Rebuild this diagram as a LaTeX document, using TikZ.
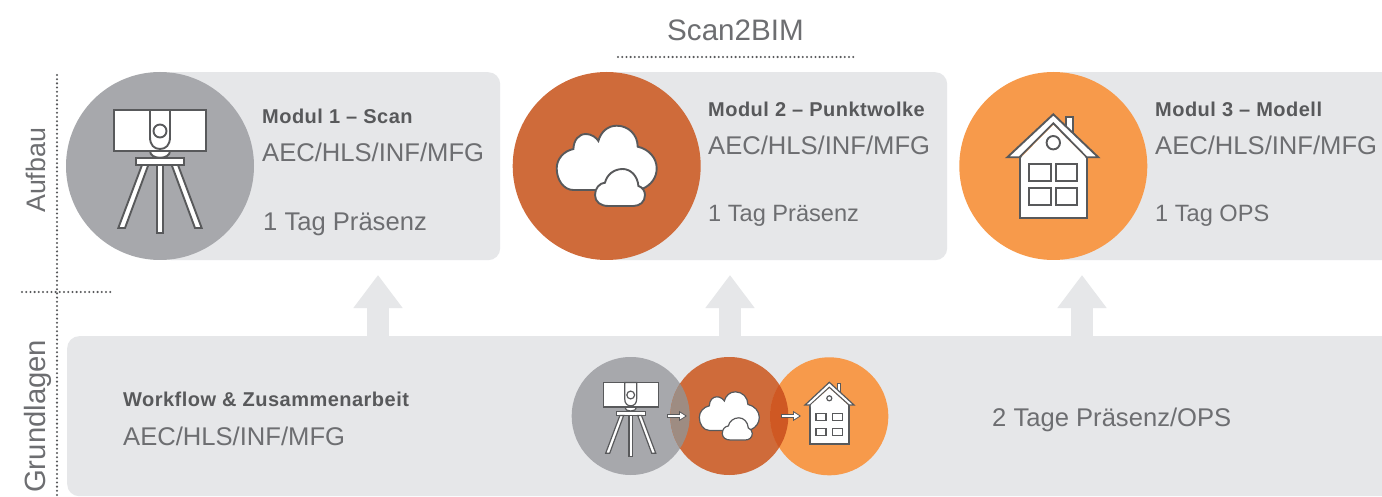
\documentclass[tikz,border=0pt]{standalone}
\usepackage{fontspec}
\setmainfont{Liberation Sans}
\usetikzlibrary{arrows.meta}
\definecolor{panelc}{HTML}{E6E7E9}
\definecolor{grayc}{HTML}{A7A8AC}
\definecolor{rustc}{HTML}{CF6B3A}
\definecolor{orangec}{HTML}{F79A4B}
\definecolor{inkc}{HTML}{58595B}
\definecolor{textc}{HTML}{6D6E71}
\definecolor{boldc}{HTML}{58595B}
\definecolor{dotc}{HTML}{58595B}
\definecolor{overA}{HTML}{9E8C82}
\definecolor{overB}{HTML}{CF5823}
\tikzset{
  panelbox/.style={fill=panelc,rounded corners=12pt,inner sep=0pt,anchor=north west},
  disc/.style={circle,inner sep=0pt,minimum size=#1,draw=none},
  txt/.style={inner sep=0pt,anchor=base west,text=textc,font=\fontsize{25.6}{25.6}\selectfont},
  smalltxt/.style={txt,font=\fontsize{23.6}{23.6}\selectfont},
  boldtxt/.style={inner sep=0pt,anchor=base west,text=boldc,font=\fontsize{20}{20}\selectfont\bfseries\addfontfeature{LetterSpace=2.4}},
  sidetxt/.style={inner sep=0pt,anchor=base west,rotate=90,text=textc},
  dotline/.style={draw=dotc,line width=2.3pt,line cap=round,dash pattern=on 0pt off 4.2pt},
  uparrow/.style={draw=panelc,line width=22pt,-{Triangle[width=47pt,length=33pt,fill=panelc]}},
  ic/.style={draw=inkc,fill=white,line width=#1,line join=miter},
  ic/.default=1.9pt,
  scannerpic/.pic={
    \tikzset{every path/.style={ic=\icw}}
    \draw (-24,-8) rectangle (24,-1);
    \draw (-10,-15) .. controls (-10,-6) and (10,-6) .. (10,-15) -- cycle;
    \draw (-2.7,-1) -- (2.7,-1) -- (2.7,67) -- (-2.7,67) -- cycle;
    \draw (-18,-1) -- (-11.7,-1) -- (-35,62) -- (-41.7,62) -- cycle;
    \draw (18,-1) -- (11.7,-1) -- (35,62) -- (41.7,62) -- cycle;
    \draw (-46,-56) rectangle (46,-15);
    \draw (-10,-56) -- (-10,-29) .. controls (-10,-21) and (-6,-17) .. (0,-17) .. controls (6,-17) and (10,-21) .. (10,-29) -- (10,-56) -- cycle;
    \draw (0,-35) circle (6.5);
  },
  cloudpic/.pic={
    \tikzset{every path/.style={ic=\icw}}
    \draw (-33.3,24) .. controls (-43,24) and (-50,14) .. (-50,2.3)
      .. controls (-50,-7) and (-43,-15) .. (-33.3,-17)
      .. controls (-33,-26) and (-28,-32) .. (-20.7,-32)
      .. controls (-15,-32) and (-10,-28) .. (-8.3,-25)
      .. controls (-6,-34) and (1,-40.3) .. (10,-40.3)
      .. controls (22,-40.3) and (31,-31) .. (31,-19.3)
      .. controls (42,-17) and (50,-8) .. (50,2.3)
      .. controls (50,12) and (44,19) .. (36.7,22.3) -- (20,24) -- cycle;
    \draw (-1.7,16.7) .. controls (-7,17) and (-11.7,22) .. (-11.7,29)
      .. controls (-11.7,36) and (-6,40) .. (1.7,40) -- (26.7,40)
      .. controls (33,40) and (38.3,36) .. (38.3,29)
      .. controls (38.3,25) and (35.5,21) .. (31.7,20)
      .. controls (31,10) and (24,3) .. (16,3)
      .. controls (7,3) and (0,9) .. (-1.7,16.7) -- cycle;
  },
  housepic/.pic={
    \tikzset{every path/.style={ic=\icw}}
    \draw (12.3,-49.3) rectangle (19.3,-28);
    \draw (-33.3,-8.7) rectangle (33.3,51.7);
    \draw (0,-51.7) -- (45,-8.7) -- (33.3,-8.7) -- (0,-42.7) -- (-34,-8.7) -- (-46,-8.7) -- cycle;
    \fill[white,draw=none] (-32,-8.7) -- (0,-41) -- (32,-8.7) -- (32,-5) -- (-32,-5) -- cycle;
    \draw (0,-23.3) circle (6.7);
    \draw (-24,-1.7) rectangle (-2.3,15);
    \draw (2.3,-1.7) rectangle (24,15);
    \draw (-24,22.3) rectangle (-2.3,39.3);
    \draw (2.3,22.3) rectangle (24,39.3);
  },
  minihousepic/.pic={
    \tikzset{every path/.style={ic=\icw}}
    \draw (8.3,-33) rectangle (11,-20);
    \draw (-19.3,-11.3) rectangle (19.7,27.7);
    \draw (0,-34) -- (24.7,-11.3) -- (19.7,-11.3) -- (0,-29) -- (-19.3,-11.3) -- (-24.3,-11.3) -- cycle;
    \fill[white,draw=none] (-18.5,-11.3) -- (0,-28) -- (18.5,-11.3) -- (18.5,-9) -- (-18.5,-9) -- cycle;
    \draw (0,-18) circle (2.5);
    \draw (-13.3,-3) rectangle (-3.3,4.3);
    \draw (3.3,-3) rectangle (13.3,4.3);
    \draw (-13.3,12) rectangle (-3.3,19.3);
    \draw (3.3,12) rectangle (13.3,19.3);
  },
  minitip/.style={draw=inkc,line width=3.6pt,-{Triangle[width=10pt,length=8pt,fill=white,line width=.8pt]}},
  minishaft/.style={draw=white,line width=2pt,shorten >=7pt,shorten <=.8pt},
}
\begin{document}
\begin{tikzpicture}[x=1pt,y=-1pt]
\clip (0,0) rectangle (1382,497);
\fill[white] (0,0) rectangle (1382,497);
% panels
\node[panelbox,minimum width=340pt,minimum height=188pt] (p1) at (160,72) {};
\node[panelbox,minimum width=340pt,minimum height=188pt] (p2) at (607,72) {};
\node[panelbox,minimum width=360pt,minimum height=188pt] (p3) at (1053,72) {};
\node[panelbox,minimum width=1340pt,minimum height=160pt] (base) at (67,336) {};
% up arrows
\coordinate (a1s) at (378,337); \coordinate (a1e) at (378,275);
\coordinate (a2s) at (730,337); \coordinate (a2e) at (730,275);
\coordinate (a3s) at (1082,337); \coordinate (a3e) at (1082,275);
\draw[uparrow] (a1s) -- (a1e);
\draw[uparrow] (a2s) -- (a2e);
\draw[uparrow] (a3s) -- (a3e);
% dotted rules
\coordinate (v1) at (57,75); \coordinate (v2) at (57,497);
\coordinate (h1) at (22,292); \coordinate (h2) at (114,292);
\coordinate (t1) at (618,57); \coordinate (t2) at (855,57);
\draw[dotline] (v1) -- (v2);
\draw[dotline] (h1) -- (h2);
\draw[dotline] (t1) -- (t2);
% big circles
\def\icw{1.9pt}
\node[disc=188pt,fill=grayc] (c1) at (160,166) {};
\node[disc=188pt,fill=rustc] (c2) at (606.7,166) {};
\node[disc=188pt,fill=orangec] (c3) at (1053.3,166) {};
\pic at (c1.center) {scannerpic};
\pic at (c2.center) {cloudpic};
\pic at (c3.center) {housepic};
% mini circles
\node[disc=118pt,fill=grayc] (m1) at (630.7,416) {};
\node[disc=118pt,fill=rustc] (m2) at (729.3,416) {};
\node[disc=118pt,fill=orangec] (m3) at (829.3,416.3) {};
\begin{scope}
  \clip (630.7,416) circle (59);
  \fill[overA] (729.3,416) circle (59);
\end{scope}
\begin{scope}
  \clip (729.3,416) circle (59);
  \fill[overB] (829.3,416.3) circle (59.3);
\end{scope}
\def\icw{1.2pt}
\pic[scale=.6] at (m1.center) {scannerpic};
\pic[scale=.6] at (m2.center) {cloudpic};
\pic at (m3.center) {minihousepic};
\coordinate (ar1s) at (667,416); \coordinate (ar1e) at (687,416);
\coordinate (ar2s) at (781,416); \coordinate (ar2e) at (801,416);
\draw[minitip] (ar1s) -- (ar1e);
\draw[minishaft] (ar1s) -- (ar1e);
\draw[minitip] (ar2s) -- (ar2e);
\draw[minishaft] (ar2s) -- (ar2e);
% text
\node[txt,font=\fontsize{29.6}{29.6}\selectfont] (title) at (667,41) {Scan2BIM};
\node[sidetxt,font=\fontsize{26.8}{26.8}\selectfont] (aufbau) at (45,213) {Aufbau};
\node[sidetxt,font=\fontsize{29.3}{29.3}\selectfont] (grund) at (45,493) {Grundlagen};
\node[boldtxt] (t11) at (262,124) {Modul 1 – Scan};
\node[txt] (t12) at (262,162) {AEC/HLS/INF/MFG};
\node[txt] (t13) at (263,231) {1 Tag Präsenz};
\node[boldtxt] (t21) at (708,117) {Modul 2 – Punktwolke};
\node[txt] (t22) at (708,155) {AEC/HLS/INF/MFG};
\node[smalltxt] (t23) at (708,222) {1 Tag Präsenz};
\node[boldtxt] (t31) at (1155,117) {Modul 3 – Modell};
\node[txt] (t32) at (1155,155) {AEC/HLS/INF/MFG};
\node[smalltxt] (t33) at (1155,222) {1 Tag OPS};
\node[boldtxt] (t41) at (123,406) {Workflow \& Zusammenarbeit};
\node[txt] (t42) at (123,445) {AEC/HLS/INF/MFG};
\node[txt] (t43) at (992,426) {2 Tage Präsenz/OPS};
\end{tikzpicture}
\end{document}
